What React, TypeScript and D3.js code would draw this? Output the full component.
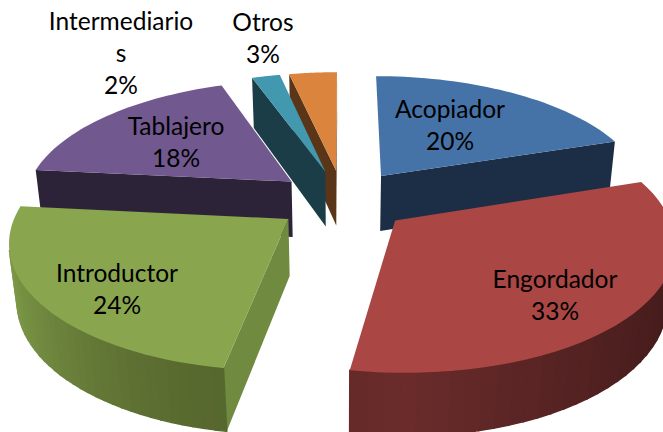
import React from "react";
import * as d3 from "d3";

const categories = ["Acopiador", "Engordador", "Introductor", "Tablajero", "Intermediarios", "Otros"];
const shares = [19.9, 32.8, 23.9, 18, 2, 3.4];
const topColors = ["#4572a7", "#aa4643", "#89a54e", "#71588f", "#4198af", "#db843d"];
const wallColors = ["#1c2e45", "#6b2c2b", "#708a40", "#2d2339", "#1a3d47", "#5a3518"];
const rimFar = ["#1c2e45", "#431b1b", "#7f9c49", "#2d2339", "#1a3d47", "#5a3518"];
const rimNear = ["#1c2e45", "#6b2c2b", "#56662d", "#2d2339", "#1a3d47", "#5a3518"];
const paintOrder = [5, 4, 0, 3, 2, 1];

/* label lines, wrapped the same way as the original */
const labelLines = [["Acopiador", "20%"], ["Engordador", "33%"], ["Introductor", "24%"], ["Tablajero", "18%"], ["Intermediario", "s", "2%"], ["Otros", "3%"]];
const labelX = [450, 555, 117, 176, 121, 263];
const labelY = [118, 288, 282, 135, 30, 31];

const WIDTH = 663;
const HEIGHT = 432;
const EXPLODE = 0.25;
const D = 6.5;

/* fake 3D: (x, y) on the pie plane, y towards the viewer, z = 1 is the underside */
const project = (x: number, y: number, z: number): [number, number] => {
  const k = D / (D - y + z * 0.15);
  return [343 + 268 * x * k, 200 + (122 * y + 57.5 * z) * k];
};

const signedArea = (pts: [number, number][]) => d3.polygonArea(pts);

export default function App() {
  const arcs = d3.pie<number>().sort(null)(shares);
  const line = d3.line();

  const slices = paintOrder.map((i) => {
    const a = arcs[i];
    const mid = (a.startAngle + a.endAngle) / 2;
    const ox = EXPLODE * Math.sin(mid);
    const oy = -EXPLODE * Math.cos(mid);
    const steps = d3.range(0, 41).map((s) => a.startAngle + ((a.endAngle - a.startAngle) * s) / 40);
    const rim = steps.map((t) => [ox + Math.sin(t), oy - Math.cos(t)] as [number, number]);

    const top = [[ox, oy] as [number, number], ...rim].map(([x, y]) => project(x, y, 0));

    const quad = (p: [number, number], q: [number, number]) => [
      project(p[0], p[1], 0),
      project(q[0], q[1], 0),
      project(q[0], q[1], 1),
      project(p[0], p[1], 1),
    ];

    /* radial walls, back-facing ones are dropped */
    const startWall = quad([ox, oy], rim[0]);
    const endWall = quad(rim[rim.length - 1], [ox, oy]);
    const walls = [a.startAngle > 0 ? startWall : null, endWall].filter((w) => w && signedArea(w) > 0);

    const shade = d3.scaleLinear<string>().domain([0, 1]).range([rimFar[i], rimNear[i]]);
    const rimWalls = d3.range(0, 40).map((s) => {
      const t = Math.abs(Math.sin(steps[s]));
      return { pts: quad(rim[s], rim[s + 1]), fill: i === 2 ? shade(1 - t * t) : shade(1 - t) };
    }).filter((w) => signedArea(w.pts) > 0);

    return { i, top, walls, rimWalls };
  });

  return (
    <svg
      width={WIDTH}
      height={HEIGHT}
      style={{ position: "absolute", left: 0, top: 0 }}
      fontFamily="Lato, sans-serif"
      fontSize={24.5}
    >
      <rect width={WIDTH} height={HEIGHT} fill="#ffffff" />
      {slices.map((s) => (
        <g key={categories[s.i]}>
          {s.walls.map((w, j) => (
            <path key={j} d={line(w) + "Z"} fill={wallColors[s.i]} />
          ))}
          {s.rimWalls.map((w, j) => (
            <path key={j} d={line(w.pts) + "Z"} fill={w.fill} stroke={w.fill} strokeWidth={1.4} />
          ))}
          <path d={line(s.top) + "Z"} fill={topColors[s.i]} />
        </g>
      ))}
      {labelLines.map((lines, i) => (
        <text key={i} x={labelX[i]} y={labelY[i]} textAnchor="middle" fill="#000000">
          {lines.map((l, j) => (
            <tspan key={j} x={labelX[i]} dy={j === 0 ? 0 : 32}>
              {l}
            </tspan>
          ))}
        </text>
      ))}
    </svg>
  );
}
